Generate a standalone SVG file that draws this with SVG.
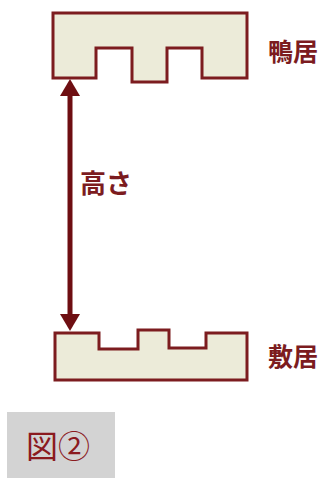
<svg xmlns="http://www.w3.org/2000/svg" width="336" height="478" viewBox="0 0 336 478">
<defs>
<style>
.piece{fill:#ecebd9;stroke:#7c1c1f;stroke-width:3;stroke-linejoin:miter}
.lbl{font-family:"Noto Sans CJK JP","Noto Sans",sans-serif;font-weight:bold;fill:#7c1c1f}
.cap{font-family:"Noto Sans CJK JP","Noto Sans",sans-serif;font-weight:normal;fill:#8b1a1f}
.arrow{fill:#6e0e12}
</style>
</defs>
<rect width="336" height="478" fill="#ffffff"/>
<g id="kamoi">
<path class="piece" d="M53,13 H247 V78 H202 V48 H167 V82 H132 V48 H96 V78 H53 Z"/>
<text class="lbl" x="268" y="61" font-size="25">鴨居</text>
</g>
<g id="shikii">
<path class="piece" d="M55,333 H99 V349 H138 V330 H169 V348 H206 V333 H247 V380 H55 Z"/>
<text class="lbl" x="268" y="366" font-size="25">敷居</text>
</g>
<g id="connectors">
<rect class="arrow" x="67.5" y="94" width="5" height="222"/>
<path class="arrow" d="M70,79 L80,96 L60,96 Z"/>
<path class="arrow" d="M70,331 L80,314 L60,314 Z"/>
</g>
<g id="height-label">
<text class="lbl" x="80" y="193" font-size="26">高さ</text>
</g>
<g id="figure-caption">
<rect x="7" y="412" width="108" height="66" fill="#d3d3d3"/>
<text class="cap" x="26" y="458" font-size="32">図②</text>
</g>
</svg>
